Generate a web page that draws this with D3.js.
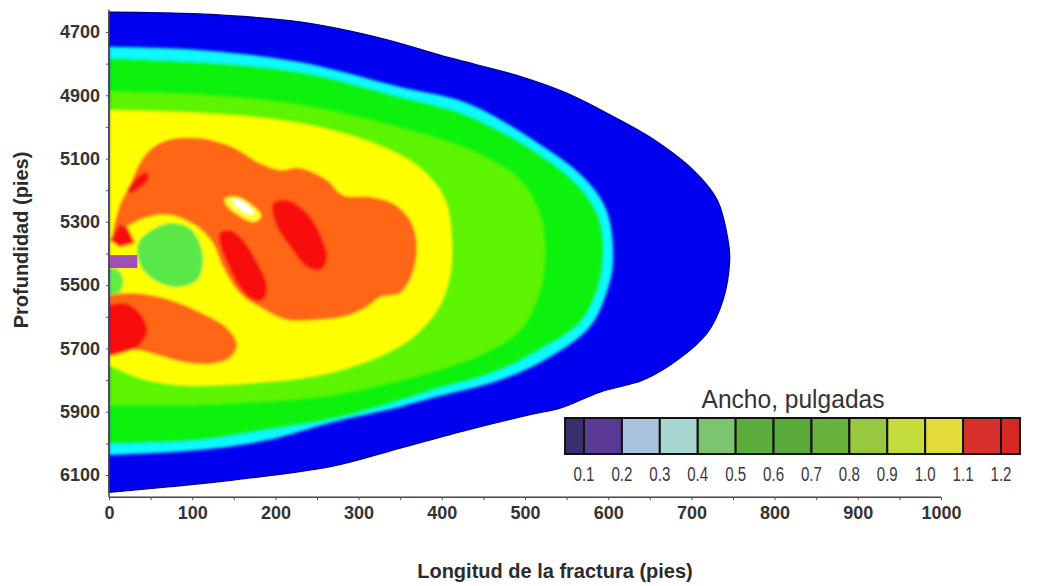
<!DOCTYPE html>
<html>
<head>
<meta charset="utf-8">
<script src="https://cdn.jsdelivr.net/npm/d3@7"></script>
<style>
  body { margin: 0; background: #fff; }
  svg { display: block; }
</style>
</head>
<body>
<svg id="chart" width="1058" height="586"></svg>
<script>
// ---- axes ----
const lengthTicks = [0, 50, 100, 150, 200, 250, 300, 350, 400, 450, 500, 550, 600, 650, 700, 750, 800, 850, 900, 950, 1000];
const lengthLabels = [0, 100, 200, 300, 400, 500, 600, 700, 800, 900, 1000];
const depthTicks = [4700, 4800, 4900, 5000, 5100, 5200, 5300, 5400, 5500, 5600, 5700, 5800, 5900, 6000, 6100];
const depthLabels = [4700, 4900, 5100, 5300, 5500, 5700, 5900, 6100];

// ---- width legend (inches) ----
const legendStops = [0.05, 0.1, 0.2, 0.3, 0.4, 0.5, 0.6, 0.7, 0.8, 0.9, 1.0, 1.1, 1.2, 1.25];
const legendLabels = [0.1, 0.2, 0.3, 0.4, 0.5, 0.6, 0.7, 0.8, 0.9, 1.0, 1.1, 1.2];
const legendColors = ["#3c2f6e", "#5b3a96", "#aac3dc", "#a8d6d2", "#7cc46e", "#5cae3c",
                      "#5aaa3a", "#66b23a", "#98c83e", "#c4dc3c", "#e2dc3a", "#d8302a", "#d82828"];

// ---- fracture width contours: [length ft, depth ft] ----
// bands that start and end on the wellbore (length 0)
const fractureEdge = [[0,4637],[109,4643],[229,4668],[326,4719],[410,4782],[489,4836],[550,4893],[598,4956],
  [650,5032],[702,5136],[731,5231],[744,5357],[746,5421],[738,5547],[719,5651],[683,5737],[642,5800],
  [590,5838],[542,5889],[510,5907],[430,5958],[350,6015],[269,6072],[149,6116],[70,6138],[0,6155]];
const cyanBand = [[0,4747],[109,4757],[229,4795],[350,4874],[430,4924],[510,5041],[570,5158],[598,5263],
  [606,5421],[598,5525],[578,5632],[530,5727],[470,5800],[388,5857],[350,5885],[269,5933],[190,5990],
  [109,6021],[0,6037]];
const greenBand = [[0,4782],[109,4795],[229,4826],[350,4905],[430,4962],[510,5073],[566,5190],[590,5294],
  [594,5421],[587,5516],[566,5620],[518,5705],[462,5778],[389,5832],[350,5865],[269,5923],[190,5958],
  [109,5990],[0,6002]];
const limeBand = [[0,4890],[109,4899],[229,4931],[350,5003],[434,5073],[494,5168],[518,5278],[524,5389],
  [518,5516],[494,5642],[446,5721],[374,5784],[269,5847],[169,5870],[85,5879],[0,5879]];
const yellowBand = [[0,4947],[109,4956],[229,4988],[314,5048],[374,5130],[404,5231],[412,5357],[410,5468],
  [398,5563],[368,5658],[320,5731],[254,5784],[169,5810],[85,5816],[37,5794],[13,5768],[0,5753]];

// closed pockets inside the fracture
const orangeUpper = [[49,5073],[70,5041],[109,5035],[149,5064],[181,5114],[206,5136],[230,5130],[262,5168],
  [281,5215],[317,5222],[341,5241],[362,5294],[370,5367],[365,5462],[350,5525],[326,5538],[310,5569],
  [281,5601],[250,5610],[214,5610],[181,5569],[157,5525],[137,5443],[124,5364],[103,5310],[73,5278],
  [43,5288],[19,5320],[5,5351],[13,5247],[25,5184],[37,5114]];
const orangeLower = [[0,5531],[29,5525],[70,5544],[109,5585],[142,5636],[154,5689],[145,5730],[121,5749],
  [89,5743],[58,5721],[31,5705],[0,5721]];
const greenPocket = [[37,5357],[58,5316],[77,5304],[97,5320],[109,5367],[113,5430],[106,5484],[85,5506],
  [61,5493],[41,5452],[34,5399]];
const greenNearWell = [[0,5446],[11,5452],[17,5484],[13,5522],[0,5532]];
const redLower = [[0,5563],[19,5557],[37,5588],[46,5642],[37,5689],[19,5712],[0,5724]];
const redDiagonalA = [[133,5335],[145,5326],[161,5357],[181,5443],[190,5506],[185,5547],[173,5547],
  [157,5506],[142,5430],[133,5367]];
const redDiagonalB = [[197,5241],[214,5231],[238,5272],[257,5357],[262,5421],[254,5452],[238,5443],
  [218,5380],[202,5316],[196,5263]];
const redSmall = [[22,5199],[34,5158],[46,5143],[47,5168],[37,5193],[25,5209]];
const redWedge = [[1,5357],[13,5307],[23,5320],[31,5367],[13,5380]];
const yellowSpot = [[139,5228],[155,5222],[173,5250],[183,5281],[175,5300],[155,5278],[142,5250]];
const whiteSpot = [[148,5231],[157,5231],[169,5253],[174,5272],[169,5275],[157,5259]];
// perforated interval [length0, length1, depthTop, depthBottom]
const perforation = [0, 34, 5405, 5446];

// ---- scales ----
const x = d3.scaleLinear().domain([0, 1000]).range([109, 941]);
const y = d3.scaleLinear().domain([4700, 6100]).range([32, 475]);
const yAxisTop = 4630, yAxisBottom = 6170;
const legendX = d3.scaleLinear().domain([0.1, 1.2]).range([584, 1001]);

const svg = d3.select("#chart");
const defs = svg.append("defs");
defs.append("filter").attr("id", "soft").attr("x", "-5%").attr("y", "-5%").attr("width", "110%").attr("height", "110%")
  .append("feGaussianBlur").attr("stdDeviation", 1.5);

const openCurve = d3.line().x(d => x(d[0])).y(d => y(d[1])).curve(d3.curveCatmullRom.alpha(0.5));
const closedCurve = d3.line().x(d => x(d[0])).y(d => y(d[1])).curve(d3.curveCatmullRomClosed.alpha(0.5));
const straightClosed = d3.line().x(d => x(d[0])).y(d => y(d[1])).curve(d3.curveLinearClosed);
const wellPath = pts => openCurve(pts) + "Z";   // band closes along the wellbore

defs.append("clipPath").attr("id", "fracClip").append("path").attr("d", wellPath(fractureEdge));

// outer fracture envelope
svg.append("path").attr("d", wellPath(fractureEdge))
  .attr("fill", "#0000f0").attr("stroke", "#00008c").attr("stroke-width", 1.2);

const inner = svg.append("g").attr("clip-path", "url(#fracClip)")
  .append("g").attr("filter", "url(#soft)");

const layers = [
  { pts: cyanBand, fill: "#10f8ff", kind: "well" },
  { pts: greenBand, fill: "#08f208", kind: "well" },
  { pts: limeBand, fill: "#5cf400", kind: "well" },
  { pts: yellowBand, fill: "#ffff00", kind: "well" },
  { pts: orangeUpper, fill: "#ff6614", kind: "closed" },
  { pts: orangeLower, fill: "#ff6614", kind: "well" },
  { pts: greenPocket, fill: "#5ae84a", kind: "closed" },
  { pts: greenNearWell, fill: "#62ec40", kind: "well" },
  { pts: redLower, fill: "#f80a0a", kind: "well" },
  { pts: redDiagonalA, fill: "#f80a0a", kind: "closed" },
  { pts: redDiagonalB, fill: "#f80a0a", kind: "closed" },
  { pts: redSmall, fill: "#f80a0a", kind: "closed" },
  { pts: redWedge, fill: "#f80a0a", kind: "straight" },
  { pts: yellowSpot, fill: "#ffff30", kind: "closed" },
  { pts: whiteSpot, fill: "#ffffff", kind: "closed" }
];
inner.selectAll("path").data(layers).join("path")
  .attr("d", d => d.kind === "well" ? wellPath(d.pts) : d.kind === "closed" ? closedCurve(d.pts) : straightClosed(d.pts))
  .attr("fill", d => d.fill);

// perforated interval
svg.append("rect")
  .attr("x", x(perforation[0])).attr("width", x(perforation[1]) - x(perforation[0]))
  .attr("y", y(perforation[2])).attr("height", y(perforation[3]) - y(perforation[2]))
  .attr("fill", "#a050b4");

// ---- axes ----
const axisFont = "'Liberation Sans', Arial, sans-serif";
const gx = svg.append("g").attr("transform", `translate(0,${y(yAxisBottom)})`)
  .call(d3.axisBottom(x).tickValues(lengthTicks).tickSize(3).tickPadding(6)
    .tickFormat(d => lengthLabels.includes(d) ? d : ""));
gx.select(".domain").attr("d", `M${x(0)},0H${x(1000)}`).attr("stroke", "#444").attr("stroke-width", 1.5);
gx.selectAll(".tick line").attr("stroke", "#555");
gx.selectAll("text").attr("font-family", axisFont).attr("font-weight", "bold")
  .attr("font-size", 18).attr("fill", "#333");

const gy = svg.append("g").attr("transform", `translate(${x(0)},0)`)
  .call(d3.axisLeft(y).tickValues(depthTicks).tickSize(3).tickPadding(6)
    .tickFormat(d => depthLabels.includes(d) ? d : ""));
gy.select(".domain").attr("d", `M0,${y(yAxisTop)}V${y(yAxisBottom)}`).attr("stroke", "#444").attr("stroke-width", 1.5);
gy.selectAll(".tick line").attr("stroke", "#555");
gy.selectAll("text").attr("font-family", axisFont).attr("font-weight", "bold")
  .attr("font-size", 18).attr("fill", "#333");

svg.append("text").attr("x", 555).attr("y", 578).attr("text-anchor", "middle")
  .attr("font-family", axisFont).attr("font-weight", "bold").attr("font-size", 20).attr("fill", "#2b2b2b")
  .text("Longitud de la fractura (pies)");
svg.append("text").attr("transform", "translate(28,240) rotate(-90)").attr("text-anchor", "middle")
  .attr("font-family", axisFont).attr("font-weight", "bold").attr("font-size", 20).attr("fill", "#2b2b2b")
  .text("Profundidad (pies)");

// ---- legend ----
const narrowFont = "'Liberation Sans Narrow', 'Arial Narrow', 'Liberation Sans', sans-serif";
const lg = svg.append("g");
const legendTop = 418, legendBottom = 454;
lg.selectAll("rect").data(legendColors).join("rect")
  .attr("x", (d, i) => legendX(legendStops[i]))
  .attr("width", (d, i) => legendX(legendStops[i + 1]) - legendX(legendStops[i]))
  .attr("y", legendTop).attr("height", legendBottom - legendTop)
  .attr("fill", d => d).attr("stroke", "#111").attr("stroke-width", 2);
lg.selectAll("text.lab").data(legendLabels).join("text").attr("class", "lab")
  .attr("x", d => legendX(d)).attr("y", 481).attr("text-anchor", "middle")
  .attr("font-family", narrowFont).attr("font-size", 20).attr("fill", "#3a3a3a")
  .attr("textLength", 21).attr("lengthAdjust", "spacingAndGlyphs")
  .text(d => d.toFixed(1));
lg.append("text").attr("x", 793).attr("y", 408).attr("text-anchor", "middle")
  .attr("font-family", narrowFont).attr("font-size", 26).attr("fill", "#333")
  .attr("textLength", 183).attr("lengthAdjust", "spacingAndGlyphs")
  .text("Ancho, pulgadas");
</script>
</body>
</html>
